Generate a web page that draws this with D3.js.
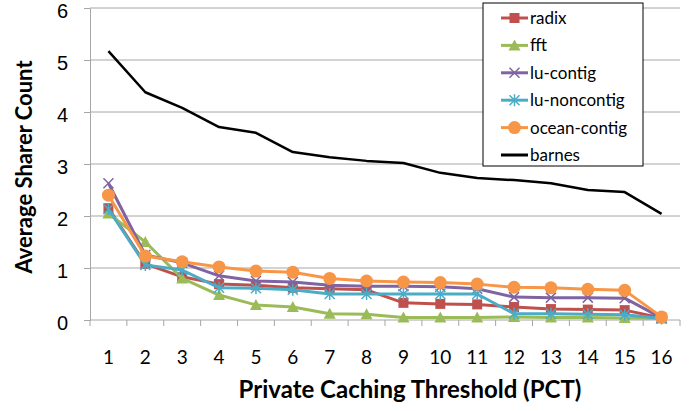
<!DOCTYPE html>
<html>
<head>
<meta charset="utf-8">
<script src="https://cdn.jsdelivr.net/npm/d3@7"></script>
<style>
  body { margin: 0; background: #fff; }
  svg { font-family: Lato, "Open Sans", sans-serif; }
  .grid line { stroke: #a6a6a6; stroke-width: 1; }
  .axis path, .axis line { stroke: #a6a6a6; }
  .axis text { fill: #000; }
</style>
</head>
<body>
<div id="chart"></div>
<script>
// data
var pct = ["1","2","3","4","5","6","7","8","9","10","11","12","13","14","15","16"];
var seriesNames = ["radix", "fft", "lu-contig", "lu-noncontig", "ocean-contig", "barnes"];
var radix = [2.15, 1.08, 0.83, 0.69, 0.67, 0.62, 0.6, 0.58, 0.33, 0.31, 0.3, 0.25, 0.21, 0.2, 0.19, 0.04];
var fft = [2.05, 1.5, 0.8, 0.48, 0.29, 0.25, 0.12, 0.11, 0.05, 0.05, 0.05, 0.06, 0.05, 0.05, 0.04, 0.03];
var luContig = [2.63, 1.25, 1.1, 0.85, 0.75, 0.73, 0.67, 0.65, 0.65, 0.64, 0.6, 0.44, 0.43, 0.43, 0.42, 0.04];
var luNoncontig = [2.13, 1.06, 0.96, 0.62, 0.61, 0.58, 0.5, 0.5, 0.5, 0.5, 0.5, 0.12, 0.12, 0.11, 0.1, 0.03];
var oceanContig = [2.4, 1.23, 1.12, 1.02, 0.94, 0.92, 0.8, 0.75, 0.73, 0.72, 0.69, 0.63, 0.62, 0.59, 0.57, 0.06];
var barnes = [5.17, 4.38, 4.08, 3.71, 3.6, 3.23, 3.13, 3.06, 3.02, 2.83, 2.73, 2.69, 2.63, 2.5, 2.46, 2.04];
var yTicks = [0, 1, 2, 3, 4, 5, 6];

var allValues = [radix, fft, luContig, luNoncontig, oceanContig, barnes];
var colors = ["#C0504D", "#9BBB59", "#8064A2", "#4BACC6", "#F79646", "#000000"];
var markers = ["square", "triangle", "cross", "star", "circle", "none"];

var W = 699, H = 411;
var plotL = 90, plotR = 680, plotT = 8, plotB = 320;

var svg = d3.select("#chart").append("svg")
    .attr("width", W)
    .attr("height", H);

var x = d3.scaleBand().domain(pct).range([plotL, plotR]);
var y = d3.scaleLinear().domain([0, 6]).range([plotB, plotT]);

// horizontal gridlines
svg.append("g").attr("class", "grid")
  .selectAll("line").data(yTicks.slice(1)).enter().append("line")
    .attr("x1", plotL).attr("x2", plotR)
    .attr("y1", function(d) { return y(d); })
    .attr("y2", function(d) { return y(d); });

// y axis
var yAxis = svg.append("g").attr("class", "axis")
    .attr("transform", "translate(" + plotL + ",0)")
    .call(d3.axisLeft(y).tickValues(yTicks).tickFormat(d3.format("d"))
      .tickSize(6).tickSizeOuter(0).tickPadding(16));
yAxis.selectAll("text").style("font-size", "20px").attr("dy", "0.45em");

// x axis: ticks between categories
var xAxis = svg.append("g").attr("class", "axis")
    .attr("transform", "translate(0," + plotB + ")");
xAxis.append("line").attr("x1", plotL).attr("x2", plotR).attr("y1", 0).attr("y2", 0);
var bounds = d3.range(pct.length + 1).map(function(i) { return plotL + i * x.step(); });
xAxis.selectAll(".tk").data(bounds).enter().append("line")
    .attr("class", "tk")
    .attr("x1", function(d) { return d; }).attr("x2", function(d) { return d; })
    .attr("y1", 0).attr("y2", 6);
xAxis.selectAll("text").data(pct).enter().append("text")
    .attr("x", function(d) { return x(d) + x.bandwidth() / 2; })
    .attr("y", 44)
    .attr("text-anchor", "middle")
    .style("font-size", "19px")
    .text(function(d) { return d; });

// axis titles
svg.append("text")
    .attr("text-anchor", "middle")
    .attr("transform", "translate(32," + ((plotT + plotB) / 2 + 3) + ")rotate(-90)")
    .style("font-size", "22px").style("font-weight", "bold")
    .text("Average Sharer Count");
svg.append("text")
    .attr("text-anchor", "middle")
    .attr("x", 410).attr("y", 398)
    .style("font-size", "24px").style("font-weight", "bold")
    .text("Private Caching Threshold (PCT)");

function drawMarker(g, type, color) {
  if (type === "square") {
    g.append("rect").attr("x", -5).attr("y", -5).attr("width", 10).attr("height", 10).attr("fill", color);
  } else if (type === "triangle") {
    g.append("path").attr("d", "M0,-6L6,5L-6,5Z").attr("fill", color);
  } else if (type === "circle") {
    g.append("circle").attr("r", 6.5).attr("fill", color);
  } else if (type === "cross") {
    g.append("path").attr("d", "M-5,-5L5,5M-5,5L5,-5").attr("stroke", color).attr("stroke-width", 1.5).attr("fill", "none");
  } else if (type === "star") {
    g.append("path").attr("d", "M-5,-5L5,5M-5,5L5,-5M0,-6L0,6").attr("stroke", color).attr("stroke-width", 1.5).attr("fill", "none");
  }
}

var line = d3.line()
    .x(function(d, i) { return x(pct[i]) + x.bandwidth() / 2; })
    .y(function(d) { return y(d); });

allValues.forEach(function(vals, s) {
  var g = svg.append("g");
  g.append("path").datum(vals)
      .attr("d", line)
      .attr("fill", "none")
      .attr("stroke", colors[s])
      .attr("stroke-width", s === 5 ? 2.5 : 3)
      .attr("stroke-linejoin", "round");
  vals.forEach(function(v, i) {
    var m = g.append("g").attr("transform", "translate(" + (x(pct[i]) + x.bandwidth() / 2) + "," + y(v) + ")");
    drawMarker(m, markers[s], colors[s]);
  });
});

// legend
var lg = svg.append("g").attr("transform", "translate(483,3)");
lg.append("rect").attr("width", 160).attr("height", 163)
    .attr("fill", "#fff").attr("stroke", "#000").attr("stroke-width", 1);
seriesNames.forEach(function(name, i) {
  var yy = 15 + i * 27.4;
  var e = lg.append("g").attr("transform", "translate(0," + yy + ")");
  e.append("line").attr("x1", 18).attr("x2", 45).attr("y1", 0).attr("y2", 0)
      .attr("stroke", colors[i]).attr("stroke-width", 3);
  var m = e.append("g").attr("transform", "translate(31.5,0)");
  drawMarker(m, markers[i], colors[i]);
  e.append("text").attr("x", 47).attr("y", 6)
      .style("font-size", "17px")
      .text(name);
});
</script>
</body>
</html>
